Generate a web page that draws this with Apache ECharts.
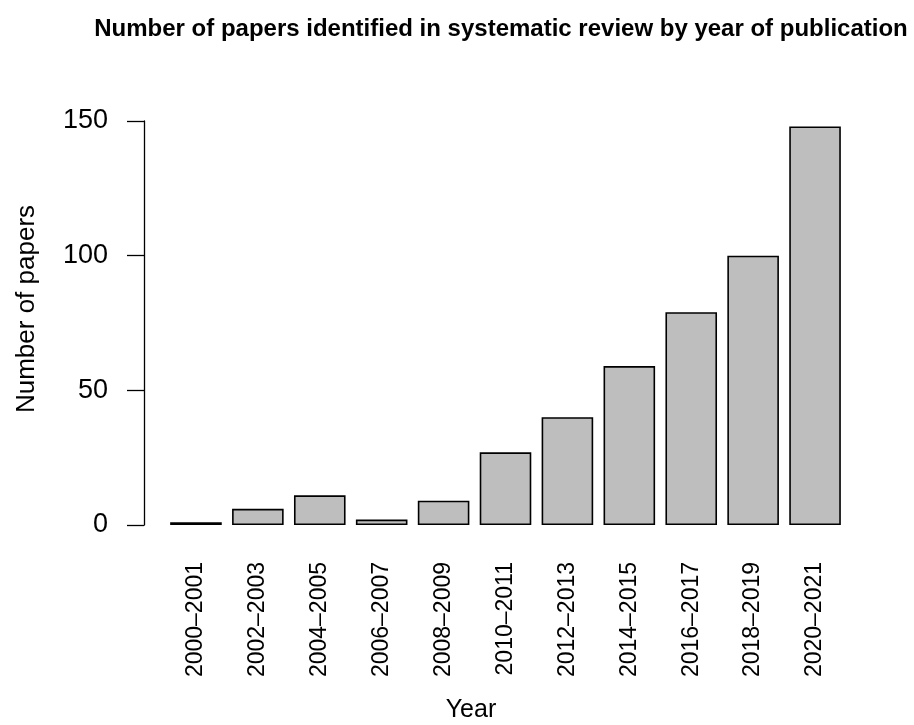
<!DOCTYPE html>
<html>
<head>
<meta charset="utf-8">
<script src="https://cdn.jsdelivr.net/npm/echarts@6/dist/echarts.min.js"></script>
<style>
html,body{margin:0;padding:0;background:#fff;}
#chart{width:914px;height:725px;}
</style>
</head>
<body>
<div id="chart"></div>
<script>
const categories = ["2000\u20132001","2002\u20132003","2004\u20132005","2006\u20132007","2008\u20132009","2010\u20132011","2012\u20132013","2014\u20132015","2016\u20132017","2018\u20132019","2020\u20132021"];
const papers = [1, 6, 11, 2, 9, 27, 40, 59, 79, 100, 148];
const yTicks = [0, 50, 100, 150];
const titleText = "Number of papers identified in systematic review by year of publication";
const xTitle = "Year";
const yTitle = "Number of papers";

const FONT = "Liberation Sans, Arial, Helvetica, sans-serif";
const chart = echarts.init(document.getElementById('chart'), null, {renderer: 'canvas'});
chart.setOption({
  backgroundColor: '#ffffff',
  animation: false,
  grid: {left: 165, right: 914 - 846, top: 121, bottom: 200, containLabel: false},
  xAxis: {
    type: 'category',
    data: categories,
    axisLine: {show: false},
    axisTick: {show: false},
    axisLabel: {rotate: 90, margin: 37, fontSize: 23, color: '#000', fontFamily: FONT, interval: 0}
  },
  yAxis: {
    type: 'value',
    min: yTicks[0],
    max: yTicks[yTicks.length - 1],
    interval: 50,
    offset: 21,
    splitLine: {show: false},
    axisLine: {show: true, lineStyle: {color: '#000', width: 1.3}},
    axisTick: {show: true, length: 17, lineStyle: {color: '#000', width: 1.3}},
    axisLabel: {margin: 36, fontSize: 27, color: '#000', fontFamily: FONT}
  },
  series: [{
    type: 'bar',
    data: papers,
    barCategoryGap: '16.67%',
    itemStyle: {color: '#bebebe', borderColor: '#000', borderWidth: 1.6}
  }],
  graphic: [
    {type: 'text', x: 501, y: 29, style: {text: titleText, font: 'bold 24px ' + FONT, fill: '#000', align: 'center', verticalAlign: 'middle'}},
    {type: 'text', x: 471, y: 710, style: {text: xTitle, font: '25px ' + FONT, fill: '#000', align: 'center', verticalAlign: 'middle'}},
    {type: 'text', x: 27, y: 309, rotation: Math.PI / 2, style: {text: yTitle, font: '26px ' + FONT, fill: '#000', align: 'center', verticalAlign: 'middle'}}
  ]
});
</script>
</body>
</html>
